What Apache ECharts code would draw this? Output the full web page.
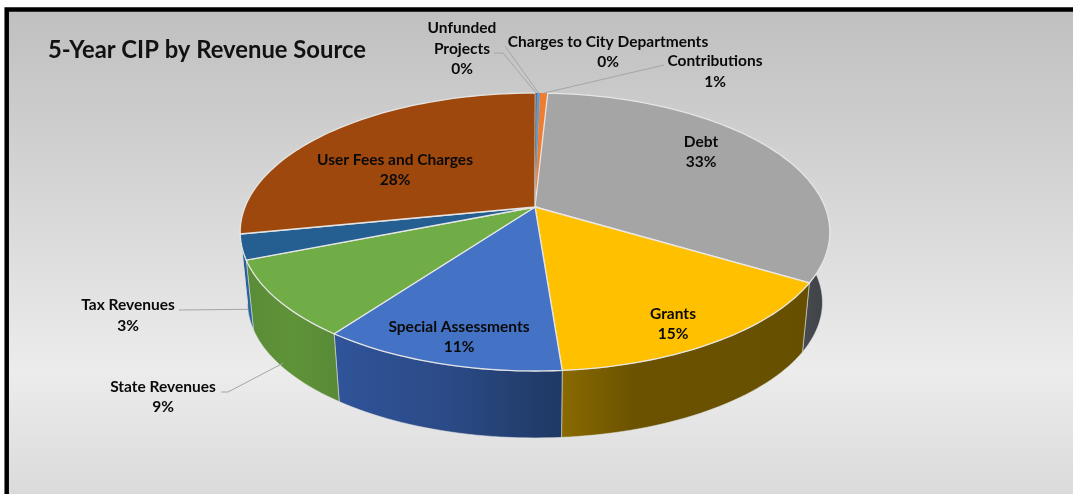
<!DOCTYPE html>
<html><head><meta charset="utf-8">
<style>html,body{margin:0;padding:0;background:#fff}#c{width:1073px;height:494px}</style>
<script src="https://cdn.jsdelivr.net/npm/echarts@6/dist/echarts.min.js"></script>
</head><body><div id="c"></div>
<script>
// Data (clockwise from the top of the pie)
var categories = ['Charges to City Departments','Contributions','Debt','Grants','Special Assessments','State Revenues','Tax Revenues','User Fees and Charges','Unfunded Projects'];
var values = [0.2,0.5,32.7,15.2,11.3,8.9,2.9,28.1,0.1];
var titleText = '5-Year CIP by Revenue Source';

// Style / layout (separate from the data)
var topColors = ['#5B9BD5','#ED7D31','#A5A5A5','#FFC000','#4472C4','#70AD47','#255E91','#9E480E','#636363'];
var wallColors = [
  [[0,'#3b6a94'],[1,'#3b6a94']],
  [[0,'#a35420'],[1,'#a35420']],
  [[0,'#484c50'],[1,'#3c4044']],
  [[0,'#8a6a00'],[0.12,'#7d6000'],[0.3,'#6b5200'],[1,'#665000']],
  [[0,'#30549a'],[0.5,'#2b4a86'],[1,'#1f3864']],
  [[0,'#5a8c38'],[0.5,'#5f9338'],[1,'#588a36']],
  [[0,'#255e91'],[1,'#2a66a0']],
  [[0,'#6b3009'],[1,'#6b3009']],
  [[0,'#444'],[1,'#444']]
];
var labelLines = [
  [['Charges to City Departments',608,42],['0%',608,62]],
  [['Contributions',715,61],['1%',715,82]],
  [['Debt',701,142],['33%',701,162]],
  [['Grants',673,314],['15%',673,334]],
  [['Special Assessments',459,327],['11%',459,347]],
  [['State Revenues',163,387],['9%',163,407]],
  [['Tax Revenues',128,305],['3%',128,326]],
  [['User Fees and Charges',395,160],['28%',395,180]],
  [['Unfunded',462,28],['Projects',462,49],['0%',462,69]]
];
var leaderStart = {0:[[505,46]],1:[[664,65]],5:[[221,392],[228,392]],6:[[179,310]],8:[[494,53],[503,53]]};
var leaderDepth = {5:0.93,6:0.89};  // fraction down the wall where the leader lands

// Pie projection
var CX=535, CY=207, A=290, B=134.5, K=0.18, S=0.975, DY=71, START=0.45;
var WALL_FROM=84, WALL_TO=259;
var total = values.reduce(function(a,b){return a+b;},0);
function angleAt(i){var s=0;for(var j=0;j<i;j++)s+=values[j];return START+s/total*360;}
function topPt(d){var t=d*Math.PI/180,u=Math.sin(t),v=Math.cos(t),q=1+K*v;return [CX+A*u/q,CY-B*v/q];}
function botPt(d){var t=d*Math.PI/180,u=Math.sin(t),v=Math.cos(t),q=1+K*v;return [CX+S*A*u/q,CY+DY-S*B*v/q];}
function arc(fn,a,b){var n=Math.max(2,Math.ceil(Math.abs(b-a)/1.5)),p=[];for(var i=0;i<=n;i++)p.push(fn(a+(b-a)*i/n));return p;}

var EDGE='rgba(232,232,232,0.95)';
function wallItem(params){
  var i=params.dataIndex,a=Math.max(angleAt(i),WALL_FROM),b=Math.min(angleAt(i+1),WALL_TO);
  if(b<=a) return {type:'group',children:[]};
  var pts=arc(topPt,a,b).concat(arc(botPt,a,b).reverse());
  return {type:'polygon',shape:{points:pts},style:{
    fill:new echarts.graphic.LinearGradient(0,0,1,0,wallColors[i].map(function(s){return {offset:s[0],color:s[1]};})),
    stroke:'rgba(225,225,225,0.55)',lineWidth:1}};
}
function topItem(params){
  var i=params.dataIndex,a=angleAt(i),b=angleAt(i+1);
  var pts=[[CX,CY]].concat(arc(topPt,a,b));
  var thin=values[i]<1;
  return {type:'polygon',shape:{points:pts},style:{fill:topColors[i],stroke:thin?null:EDGE,lineWidth:thin?0:1.3}};
}
function labelItem(params){
  var i=params.dataIndex,ch=[],mid=(angleAt(i)+angleAt(i+1))/2;
  if(leaderStart[i]){
    var end;
    if(leaderDepth[i]!=null){var t=topPt(mid),bt=botPt(mid),f=leaderDepth[i];end=[t[0]+(bt[0]-t[0])*f,t[1]+(bt[1]-t[1])*f];}
    else end=topPt(mid);
    ch.push({type:'polyline',shape:{points:leaderStart[i].concat([end])},style:{fill:null,stroke:'#a6a6a6',lineWidth:1}});
  }
  labelLines[i].forEach(function(l){
    var txt=l[0];
    if(/%$/.test(txt)) txt=Math.round(values[i]/total*100)+'%';
    ch.push({type:'text',style:{text:txt,x:l[1],y:l[2],align:'center',verticalAlign:'middle',
      font:'bold 15.5px Lato, "Open Sans", sans-serif',fill:'#0a0a0a'}});
  });
  return {type:'group',children:ch};
}
var seriesData = values.map(function(v,i){return {name:categories[i],value:v};});
var chart = echarts.init(document.getElementById('c'),null,{renderer:'canvas'});
chart.setOption({
  animation:false,
  backgroundColor:'#ffffff',
  title:{text:titleText,left:48,top:38,textStyle:{fontFamily:'Lato',fontWeight:'bold',fontSize:23.8,color:'#111'},padding:0},
  graphic:{elements:[{type:'rect',z:-10,shape:{x:6.7,y:9.5,width:1090,height:500},
    style:{fill:new echarts.graphic.LinearGradient(0,0,0,1,[{offset:0,color:'#bfbfbf'},{offset:0.72,color:'#ececec'},{offset:1,color:'#d8d8d8'}]),
    stroke:'#000',lineWidth:4.5}}]},
  series:[
   {type:'custom',coordinateSystem:'none',z:2,silent:true,data:seriesData,renderItem:wallItem},
   {type:'custom',coordinateSystem:'none',z:3,silent:true,data:seriesData,renderItem:topItem},
   {type:'custom',coordinateSystem:'none',z:4,silent:true,data:seriesData,renderItem:labelItem}
  ]
});
</script></body></html>
